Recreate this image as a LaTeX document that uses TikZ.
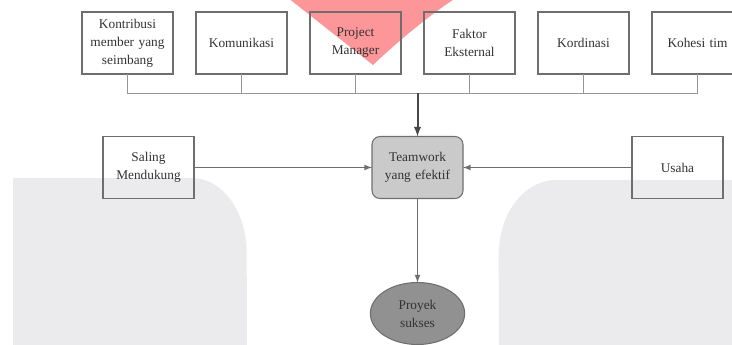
\documentclass[tikz,border=0pt]{standalone}
\usepackage{fontspec}
\setmainfont{Liberation Serif}
\newfontfamily\diagfont{Liberation Serif}
\usetikzlibrary{positioning,shapes.geometric,arrows}

\definecolor{boxgray}{RGB}{110,110,110}
\definecolor{txtgray}{RGB}{50,50,50}
\definecolor{busgray}{RGB}{150,150,150}
\definecolor{wmgray}{RGB}{235,235,237}
\definecolor{wmred}{RGB}{252,150,152}
\definecolor{teamfill}{RGB}{202,202,202}
\definecolor{proyekfill}{RGB}{145,145,145}

\begin{document}
\begin{tikzpicture}[x=0.75pt,y=0.75pt,every node/.style={align=center,outer sep=0pt,text=txtgray,font=\diagfont\fontsize{10}{13.5}\selectfont}]
\tikzstyle{box}=[draw=boxgray,line width=0.8pt,minimum width=68.25pt,minimum height=46.5pt,inner sep=1pt,text width=64pt]
\tikzstyle{teambox}=[box,fill=teamfill,rounded corners=6pt]
\tikzstyle{goal}=[ellipse,draw=boxgray,line width=0.8pt,fill=proyekfill,minimum width=69pt,minimum height=46.5pt,inner sep=0pt,text width=50pt]
\tikzstyle{busline}=[draw=busgray,line width=0.75pt]
\tikzstyle{mainarrow}=[-latex,draw=txtgray!90,line width=1.5pt]
\tikzstyle{sidearrow}=[-latex,draw=boxgray,line width=1pt]

\useasboundingbox (0,0) rectangle (732,344);

\fill[wmgray] (13,-10) -- (13,166) -- (192,166) arc[start angle=90,end angle=0,x radius=41pt,y radius=56pt] -- (247,-10) -- cycle;
\fill[wmgray] (740,-10) -- (740,164) -- (556,164) arc[start angle=90,end angle=180,x radius=43pt,y radius=56pt] -- (499,-10) -- cycle;
\fill[wmred] (283,350) -- (373,279) .. controls (395,300) and (430,330) .. (462,350) -- cycle;

\node (kontribusi) [box] at (127.5,301) {Kontribusi\\member yang\\seimbang};
\node (komunikasi) [box,right=17.25pt of kontribusi] {Komunikasi};
\node (manager) [box,right=17.25pt of komunikasi] {Project\\Manager};
\node (eksternal) [box,right=17.25pt of manager] {Faktor\\Eksternal};
\node (kordinasi) [box,right=17.25pt of eksternal] {Kordinasi};
\node (kohesi) [box,right=17.25pt of kordinasi] {Kohesi tim};

\node (teamwork) [teambox] at (417.5,176.5) {Teamwork\\yang efektif};
\node (saling) [box,left=133.5pt of teamwork] {Saling\\Mendukung};
\node (usaha) [box,right=126.75pt of teamwork] {Usaha};
\node (proyek) [goal,below=63pt of teamwork] {Proyek\\sukses};

\coordinate (bus) at (0,251);
\draw [busline] (kontribusi.south) -- (kontribusi.south|-bus) -| (kohesi.south);
\foreach \n in {komunikasi,manager,eksternal,kordinasi}
  \draw [busline] (\n.south) -- (\n.south|-bus);

\draw [mainarrow] (teamwork.north|-bus) -- (teamwork.north);
\draw [sidearrow] (saling) -- (teamwork);
\draw [sidearrow] (usaha) -- (teamwork);
\draw [sidearrow] (teamwork) -- (proyek);
\end{tikzpicture}
\end{document}
